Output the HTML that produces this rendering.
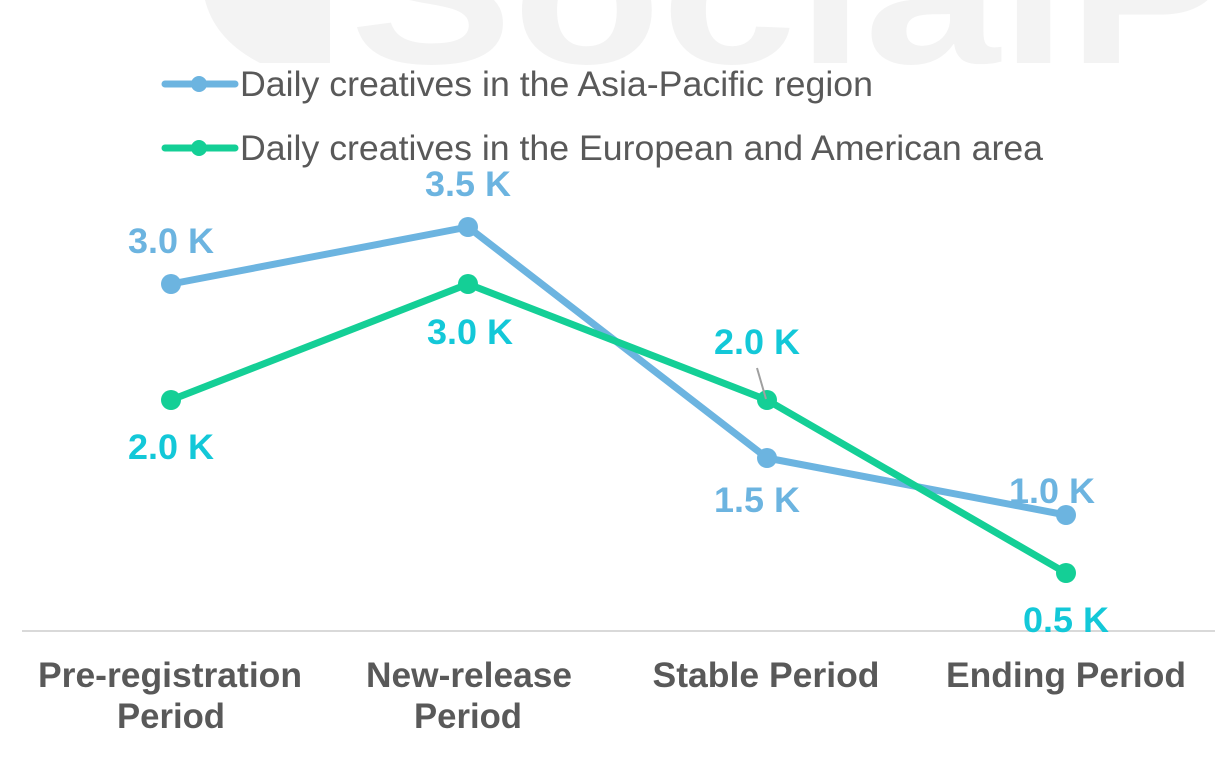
<!DOCTYPE html>
<html><head><meta charset="utf-8"><style>
html,body{margin:0;padding:0;background:#fff;}
svg{display:block;}
</style></head><body>
<svg width="1222" height="760" xmlns="http://www.w3.org/2000/svg" font-family="Liberation Sans, Arial, sans-serif">
<path d="M205,0 L330,0 L330,63 L260,63 Q215,40 205,0 Z" fill="#f3f3f3"/>
<text x="350" y="63" font-size="200" font-weight="bold" fill="#f3f3f3" textLength="880" lengthAdjust="spacingAndGlyphs">SocialP</text>
<line x1="22" y1="631" x2="1215" y2="631" stroke="#d9d9d9" stroke-width="2"/>
<line x1="165" y1="84" x2="235" y2="84" stroke="#6cb4e0" stroke-width="7" stroke-linecap="round"/>
<circle cx="199" cy="84" r="8" fill="#6cb4e0"/>
<text x="240" y="96" font-size="35" fill="#595959" textLength="633" lengthAdjust="spacingAndGlyphs">Daily creatives in the Asia-Pacific region</text>
<line x1="165" y1="148" x2="235" y2="148" stroke="#14cf96" stroke-width="7" stroke-linecap="round"/>
<circle cx="199" cy="148" r="8" fill="#14cf96"/>
<text x="240" y="160" font-size="35" fill="#595959" textLength="803" lengthAdjust="spacingAndGlyphs">Daily creatives in the European and American area</text>
<polyline points="171,284 468,227 767,458 1066,515" fill="none" stroke="#6cb4e0" stroke-width="7" stroke-linejoin="round"/>
<polyline points="171,400 468,284 767,400 1066,573" fill="none" stroke="#14cf96" stroke-width="7" stroke-linejoin="round"/>
<g fill="#6cb4e0"><circle cx="171" cy="284" r="10"/><circle cx="468" cy="227" r="10"/><circle cx="767" cy="458" r="10"/><circle cx="1066" cy="515" r="10"/></g>
<g fill="#14cf96"><circle cx="171" cy="400" r="10"/><circle cx="468" cy="284" r="10"/><circle cx="767" cy="400" r="10"/><circle cx="1066" cy="573" r="10"/></g>
<line x1="757" y1="368" x2="766" y2="399" stroke="#a0a0a0" stroke-width="2"/>
<g font-size="35" font-weight="bold" text-anchor="middle">
<g fill="#6cb4e0">
<text x="171" y="253" textLength="86" lengthAdjust="spacingAndGlyphs">3.0 K</text>
<text x="468" y="196" textLength="86" lengthAdjust="spacingAndGlyphs">3.5 K</text>
<text x="757" y="512" textLength="86" lengthAdjust="spacingAndGlyphs">1.5 K</text>
<text x="1052" y="503" textLength="86" lengthAdjust="spacingAndGlyphs">1.0 K</text>
</g>
<g fill="#13c8d8">
<text x="171" y="459" textLength="86" lengthAdjust="spacingAndGlyphs">2.0 K</text>
<text x="470" y="344" textLength="86" lengthAdjust="spacingAndGlyphs">3.0 K</text>
<text x="757" y="354" textLength="86" lengthAdjust="spacingAndGlyphs">2.0 K</text>
<text x="1066" y="632" textLength="86" lengthAdjust="spacingAndGlyphs">0.5 K</text>
</g>
</g>
<g font-size="35" font-weight="bold" fill="#595959" text-anchor="middle">
<text x="170" y="687" textLength="264" lengthAdjust="spacingAndGlyphs">Pre-registration</text>
<text x="171" y="728" textLength="108" lengthAdjust="spacingAndGlyphs">Period</text>
<text x="469" y="687" textLength="206" lengthAdjust="spacingAndGlyphs">New-release</text>
<text x="468" y="728" textLength="108" lengthAdjust="spacingAndGlyphs">Period</text>
<text x="766" y="687" textLength="227" lengthAdjust="spacingAndGlyphs">Stable Period</text>
<text x="1066" y="687" textLength="240" lengthAdjust="spacingAndGlyphs">Ending Period</text>
</g>
</svg>
</body></html>
